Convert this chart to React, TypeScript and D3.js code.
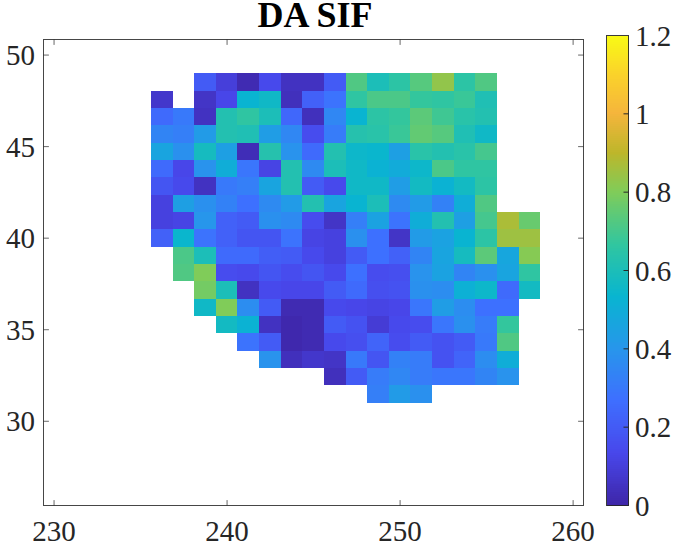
import React from "react";
import * as d3 from "d3";

const W = 684, H = 546;
const title = "DA SIF";
const xTicks = [230, 240, 250, 260];
const yTicks = [30, 35, 40, 45, 50];
const cTicks = [0, 0.2, 0.4, 0.6, 0.8, 1, 1.2];
const lonStart = 235.6, lonStep = 1.25;
const latTop = 49.0, latStep = 0.947;
const _ = null;
const sif: (number | null)[][] = [
  [_, _, .2, .1, .02, .14, .05, .05, .2, .72, .6, .65, .73, .83, .65, .72, _, _],
  [.07, _, .06, .13, .53, .56, .04, .22, .28, .66, .71, .71, .67, .66, .68, .61, _, _],
  [.25, .3, .05, .62, .66, .6, .24, .04, .35, .53, .65, .67, .74, .69, .64, .62, _, _],
  [.34, .32, .42, .62, .61, .43, .35, .15, .31, .63, .64, .68, .75, .73, .61, .56, _, _],
  [.46, .38, .58, .44, .03, .63, .39, .25, .62, .55, .54, .44, .64, .62, .64, .7, _, _],
  [.25, .13, .39, .5, .29, .12, .62, .36, .6, .56, .52, .49, .55, .71, .66, .66, _, _],
  [.18, .14, .05, .3, .32, .46, .62, .2, .14, .56, .56, .43, .57, .52, .57, .65, _, _],
  [.11, .44, .38, .33, .27, .36, .42, .62, .46, .53, .6, .36, .42, .33, .5, .72, _, _],
  [.11, .12, .4, .22, .2, .38, .36, .15, .06, .32, .45, .28, .5, .62, .44, .7, .87, .76],
  [.22, .54, .28, .22, .18, .18, .28, .12, .11, .38, .27, .06, .42, .45, .53, .65, .85, .85],
  [_, .71, .6, .25, .25, .21, .2, .14, .11, .2, .27, .22, .34, .46, .58, .74, .47, .81],
  [_, .72, .8, .15, .14, .18, .15, .18, .14, .27, .15, .16, .39, .45, .34, .38, .46, .66],
  [_, _, .78, .6, .05, .14, .13, .13, .2, .25, .16, .17, .38, .37, .51, .55, .25, .57],
  [_, _, .56, .8, .37, .2, .02, .02, .14, .13, .12, .13, .29, .43, .37, .27, .27, _],
  [_, _, _, .57, .52, .05, .01, .02, .2, .17, .09, .14, .15, .29, .38, .31, .67, _],
  [_, _, _, _, .28, .2, .01, .02, .14, .16, .23, .15, .2, .17, .2, .3, .72, _],
  [_, _, _, _, _, .39, .04, .07, .06, .3, .18, .33, .31, .17, .23, .37, .5, _],
  [_, _, _, _, _, _, _, _, .04, .2, .31, .35, .31, .29, .29, .34, .39, _],
  [_, _, _, _, _, _, _, _, _, _, .32, .42, .38, _, _, _, _, _],
];
const cmapValues = [0, 0.133, 0.267, 0.4, 0.533, 0.667, 0.8, 0.9, 1.0, 1.1, 1.2];
const cmapColors = ["#3e26a8", "#4847eb", "#3e6fff", "#2796eb", "#08b5d0", "#31c69f", "#80cc59", "#bdb62a", "#f5b53c", "#fad32a", "#f9fb15"];

const plot = { l: 43.5, r: 583.5, t: 39.5, b: 505.5 };
const bar = { l: 606.5, r: 628.5, t: 35.5, b: 505.5 };
const AX = "#262626";
const FONT = "'Liberation Serif', serif";

export default function App() {
  const x = d3.scaleLinear().domain([229.39, 260.6]).range([plot.l, plot.r]);
  const y = d3.scaleLinear().domain([25.4, 50.85]).range([plot.b, plot.t]);
  const c = d3.scaleLinear<string>().domain(cmapValues).range(cmapColors).interpolate(d3.interpolateRgb).clamp(true);
  const cy = d3.scaleLinear().domain([0, 1.2]).range([bar.b, bar.t]);
  const barSteps = d3.range(0, 1.2, 0.005);
  const tl = 5.4;
  return (
    <svg width={W} height={H} viewBox={`0 0 ${W} ${H}`} style={{ position: "absolute", left: 0, top: 0, background: "#fff" }} fontFamily={FONT}>
      <text x={315} y={27} textAnchor="middle" fontSize={36} fontWeight="bold" fill="#000">{title}</text>
      <g shapeRendering="crispEdges">
        {sif.map((row, i) =>
          row.map((v, j) => {
            if (v === null) return null;
            const x0 = x(lonStart + j * lonStep), x1 = x(lonStart + (j + 1) * lonStep);
            const y0 = y(latTop - i * latStep), y1 = y(latTop - (i + 1) * latStep);
            return <rect key={`${i}-${j}`} x={x0} y={y0} width={x1 - x0} height={y1 - y0} fill={c(v)} />;
          })
        )}
      </g>
      <rect x={plot.l} y={plot.t} width={plot.r - plot.l} height={plot.b - plot.t} fill="none" stroke={AX} strokeWidth={1} strokeOpacity={0.85} />
      {xTicks.map((t) => (
        <g key={t}>
          <line x1={x(t)} x2={x(t)} y1={plot.b} y2={plot.b - tl} stroke={AX} strokeOpacity={0.7} />
          <line x1={x(t)} x2={x(t)} y1={plot.t} y2={plot.t + tl} stroke={AX} strokeOpacity={0.7} />
          <text x={x(t)} y={541} textAnchor="middle" fontSize={29} fill={AX}>{t}</text>
        </g>
      ))}
      {yTicks.map((t) => (
        <g key={t}>
          <line x1={plot.l} x2={plot.l + tl} y1={y(t)} y2={y(t)} stroke={AX} strokeOpacity={0.7} />
          <line x1={plot.r} x2={plot.r - tl} y1={y(t)} y2={y(t)} stroke={AX} strokeOpacity={0.7} />
          <text x={35} y={y(t) + 10} textAnchor="end" fontSize={29} fill={AX}>{t}</text>
        </g>
      ))}
      <g shapeRendering="crispEdges">
        {barSteps.map((v) => (
          <rect key={v} x={bar.l} y={cy(v + 0.005)} width={bar.r - bar.l} height={cy(v) - cy(v + 0.005) + 0.5} fill={c(v)} />
        ))}
      </g>
      <rect x={bar.l} y={bar.t} width={bar.r - bar.l} height={bar.b - bar.t} fill="none" stroke={AX} strokeWidth={1} strokeOpacity={0.9} />
      {cTicks.map((t) => (
        <g key={t}>
          {t > 0 && t < 1.2 && <line x1={bar.r} x2={bar.r - 5} y1={cy(t)} y2={cy(t)} stroke={AX} />}
          <text x={635} y={cy(t) + 10} fontSize={29} fill={AX}>{t}</text>
        </g>
      ))}
    </svg>
  );
}
